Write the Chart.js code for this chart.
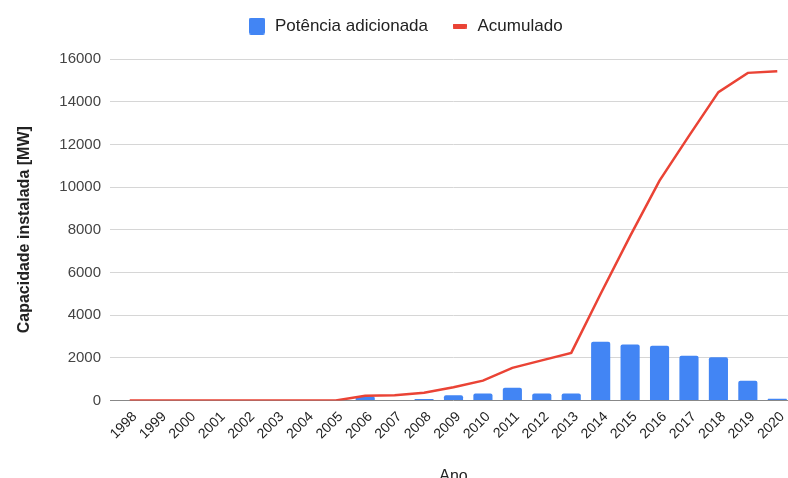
<!DOCTYPE html>
<html>
<head>
<meta charset="utf-8">
<script src="https://cdn.jsdelivr.net/npm/chart.js@4"></script>
<style>
html,body{margin:0;padding:0;background:#fff;overflow:hidden;width:788px;height:478px}
#wrap{width:800px;height:478px}
</style>
</head>
<body>
<div id="wrap"><canvas id="c" width="800" height="478"></canvas></div>
<script>
const years = ['1998','1999','2000','2001','2002','2003','2004','2005','2006','2007','2008','2009','2010','2011','2012','2013','2014','2015','2016','2017','2018','2019','2020'];
const addedMW = [0,0,0,0,0,0,0,0,200,20,70,250,330,600,330,330,2750,2620,2570,2100,2030,920,80];
const cumulativeMW = [0,0,0,0,0,0,0,0,220,250,360,620,930,1530,1880,2230,5000,7700,10300,12400,14450,15350,15430];
const yTickValues = [0,2000,4000,6000,8000,10000,12000,14000,16000];
const seriesNames = ['Potência adicionada','Acumulado'];
const axisTitles = {x:'Ano', y:'Capacidade instalada [MW]'};

const BLUE = '#4285F4', RED = '#EA4335';
Chart.defaults.font.family = '"Liberation Sans", Arial, sans-serif';

function marker(w,h,color,r){
  const c=document.createElement('canvas'); c.width=w; c.height=h;
  const g=c.getContext('2d'); g.fillStyle=color; g.beginPath();
  if(g.roundRect){g.roundRect(0,0,w,h,r);} else {g.rect(0,0,w,h);}
  g.fill(); return c;
}
const blueMark = marker(16,17,BLUE,2);
const redMark = marker(14,5,RED,1);

const legendGap = {
  id:'legendGap',
  afterInit(chart){
    const lg = chart.legend; const f = lg.fit;
    lg.fit = function(){ f.call(this); this.height += 14.5; };
  }
};

new Chart(document.getElementById('c'), {
  data: {
    labels: years,
    datasets: [
      {type:'bar', label:seriesNames[0], data:addedMW, backgroundColor:BLUE, borderRadius:{topLeft:2,topRight:2}, borderSkipped:'bottom', barPercentage:0.65, categoryPercentage:1, order:2},
      {type:'line', label:seriesNames[1], data:cumulativeMW, borderColor:RED, borderWidth:2.5, pointRadius:0, tension:0, fill:false, order:1}
    ]
  },
  options: {
    responsive:false, animation:false, devicePixelRatio:1,
    layout:{padding:{top:-4.5,left:18,right:8,bottom:0}},
    plugins:{
      tooltip:{enabled:false},
      legend:{
        position:'top',
        labels:{
          usePointStyle:true, pointStyleWidth:19, padding:22,
          font:{size:17}, color:'#222',
          generateLabels:()=>[
            {text:seriesNames[0], pointStyle:blueMark, fillStyle:BLUE, strokeStyle:BLUE, lineWidth:0, hidden:false, datasetIndex:0, fontColor:'#222'},
            {text:seriesNames[1], pointStyle:redMark, fillStyle:RED, strokeStyle:RED, lineWidth:0, hidden:false, datasetIndex:1, fontColor:'#222'}
          ]
        }
      }
    },
    scales:{
      x:{
        offset:true,
        grid:{display:false, drawTicks:false},
        border:{display:false},
        ticks:{minRotation:45, maxRotation:45, autoSkip:false, font:{size:14}, color:'#222', padding:8, labelOffset:5},
        title:{display:true, text:axisTitles.x, font:{size:16}, color:'#222', padding:{top:0,bottom:-8}},
        afterFit:s=>{s.height=77.5;}
      },
      y:{
        min:0, max:16000,
        afterBuildTicks:s=>{s.ticks = yTickValues.map(v=>({value:v}));},
        ticks:{font:{size:15}, color:'#444', padding:9, callback:v=>String(v)},
        grid:{color:c=>c.tick && c.tick.value===0 ? '#888' : '#d6d6d6', tickLength:5, lineWidth:1},
        border:{display:false},
        title:{display:true, text:axisTitles.y, font:{size:16, weight:'bold'}, color:'#222', padding:{top:-3,bottom:0}},
        afterFit:s=>{s.width=97;}
      }
    }
  },
  plugins:[legendGap]
});
</script>
</body>
</html>
